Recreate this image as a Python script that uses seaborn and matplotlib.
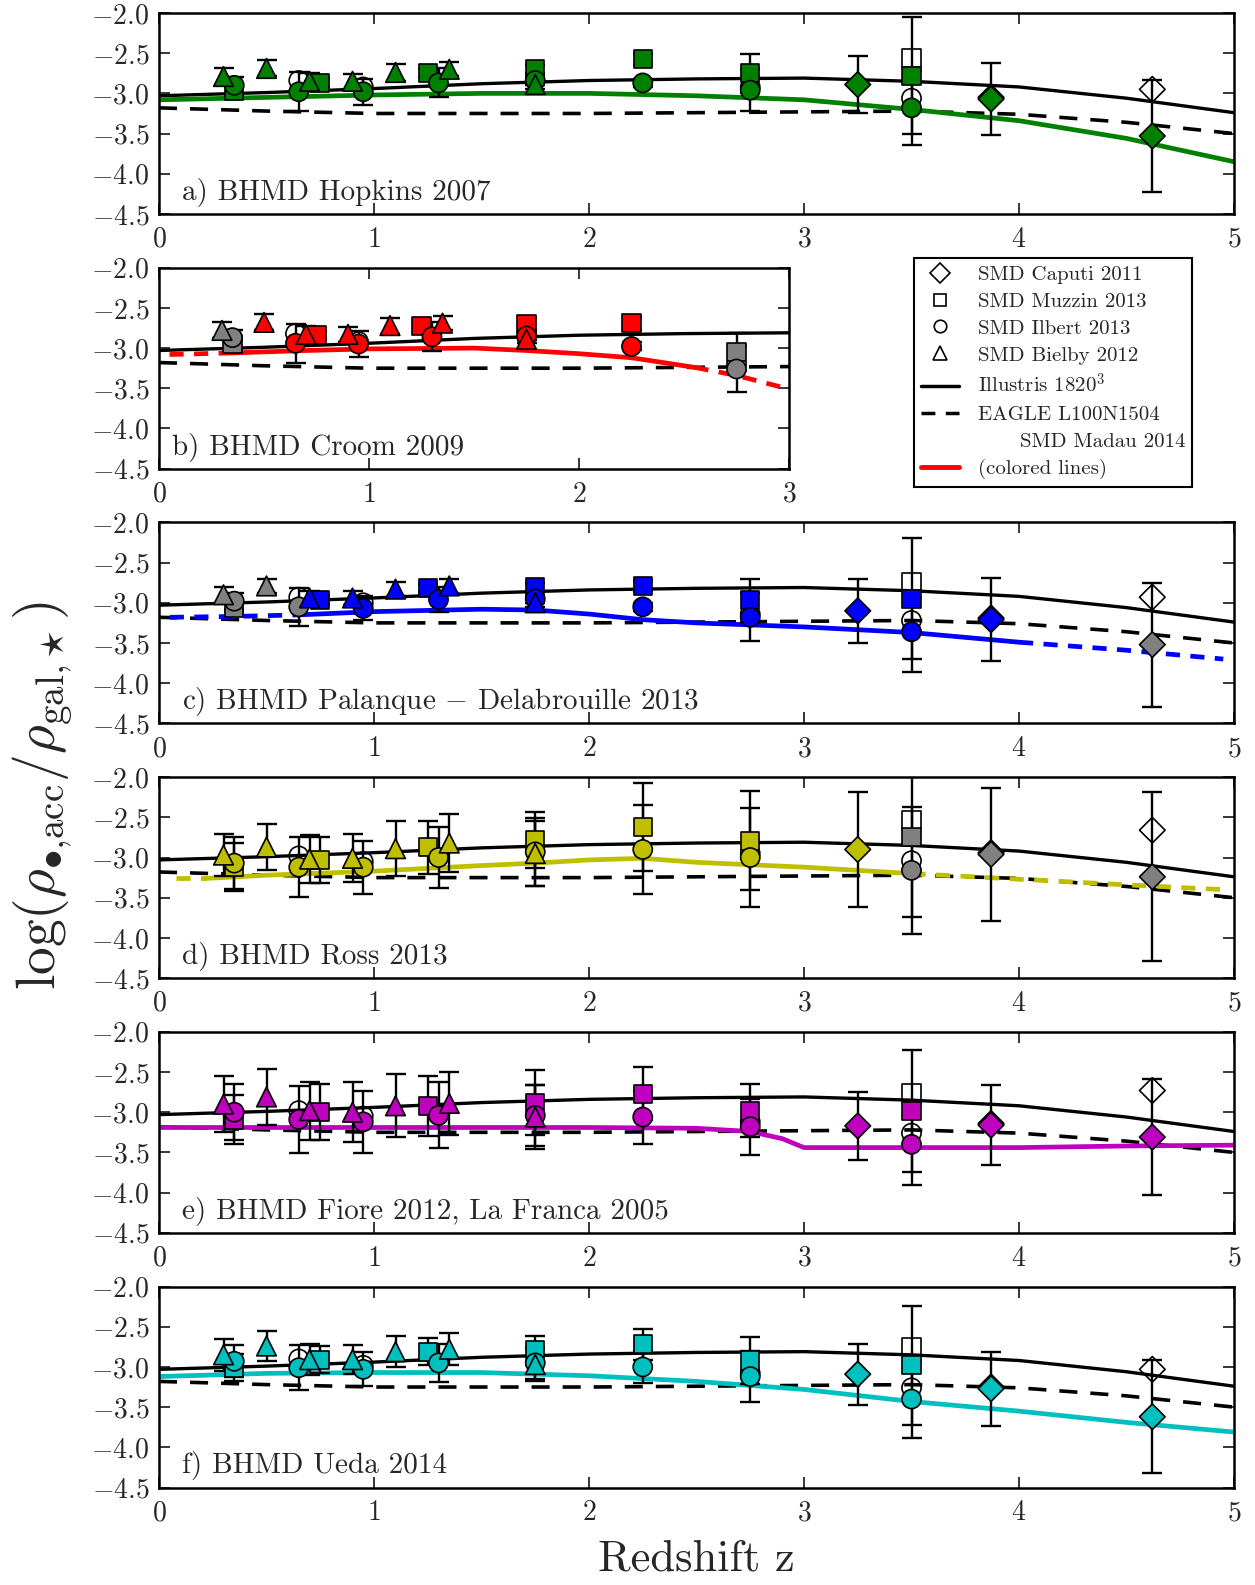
import numpy as np
import matplotlib
matplotlib.use("Agg")
import matplotlib.pyplot as plt
from matplotlib.lines import Line2D
from matplotlib.ticker import FuncFormatter, MultipleLocator
import seaborn as sns

# redshifts of the stellar-mass-density samples
z_tri = [0.30, 0.50, 0.70, 0.90, 1.10, 1.35, 1.75]          # Bielby 2012
z_cir = [0.35, 0.65, 0.95, 1.30, 1.75, 2.25, 2.75, 3.50]    # Ilbert 2013
z_sq = [0.35, 0.75, 1.25, 1.75, 2.25, 2.75, 3.50]           # Muzzin 2013
z_dia = [3.25, 3.87, 4.62]                                  # Caputi 2011
z_open_cir = [0.65, 0.95, 2.75, 3.50]
z_open_sq = [3.50]
z_open_dia = [3.87, 4.62]

# simulations (same in every panel)
z_model = [0, 0.5, 1, 1.5, 2, 2.5, 3, 3.5, 4, 4.5, 5]
illustris = [-3.03, -2.99, -2.94, -2.88, -2.84, -2.82, -2.81, -2.85, -2.92, -3.06, -3.24]
eagle = [-3.18, -3.22, -3.25, -3.25, -3.25, -3.24, -3.23, -3.22, -3.26, -3.36, -3.50]

labels = ["a) BHMD Hopkins 2007", "b) BHMD Croom 2009",
          r"c) BHMD Palanque $-$ Delabrouille 2013", "d) BHMD Ross 2013",
          "e) BHMD Fiore 2012, La Franca 2005", "f) BHMD Ueda 2014"]
colors = ["g", "r", "b", "y", "m", "c"]
zmax = [5, 3, 5, 5, 5, 5]
# redshift range covered by each BHMD (outside: dashed line, gray points)
valid_lo = [0.0, 0.35, 0.65, 0.22, 0.0, 0.0]
valid_hi = [5.0, 2.55, 4.00, 3.50, 5.0, 5.0]

# BHMD / SMD Madau 2014 curves
line_z = [
    [0, 0.5, 1, 1.5, 2, 2.5, 3, 3.5, 4, 4.5, 5],
    [0.05, 0.35, 0.7, 1.0, 1.5, 1.75, 2.0, 2.25, 2.55, 2.75, 3.0],
    [0.05, 0.35, 0.65, 1.0, 1.5, 1.75, 2.0, 2.25, 2.5, 3.0, 3.5, 4.0, 4.5, 4.95],
    [0.08, 0.22, 0.5, 1.0, 1.5, 1.75, 2.0, 2.25, 2.5, 3.0, 3.5, 4.0, 4.5, 4.95],
    [0, 0.5, 1, 1.5, 2, 2.5, 2.75, 2.9, 3.0, 3.5, 4.0, 4.5, 5],
    [0, 0.5, 1, 1.5, 2, 2.5, 3, 3.5, 4, 4.5, 5],
]
line_y = [
    [-3.08, -3.05, -3.02, -3.00, -3.00, -3.03, -3.08, -3.20, -3.34, -3.56, -3.85],
    [-3.08, -3.06, -3.03, -3.01, -3.00, -3.03, -3.07, -3.12, -3.24, -3.34, -3.51],
    [-3.18, -3.17, -3.15, -3.11, -3.08, -3.09, -3.14, -3.21, -3.25, -3.30, -3.37, -3.49, -3.59, -3.70],
    [-3.26, -3.26, -3.22, -3.17, -3.10, -3.07, -3.03, -3.01, -3.06, -3.12, -3.20, -3.27, -3.34, -3.40],
    [-3.19, -3.19, -3.19, -3.19, -3.19, -3.20, -3.24, -3.33, -3.44, -3.44, -3.44, -3.42, -3.41],
    [-3.12, -3.08, -3.07, -3.07, -3.11, -3.18, -3.28, -3.43, -3.55, -3.69, -3.81],
]

# filled points: log(rho_BH / rho_gal) per panel, with errors
tri_y = [
    [-2.79, -2.69, -2.85, -2.85, -2.74, -2.70, -2.89],
    [-2.78, -2.68, -2.83, -2.83, -2.72, -2.69, -2.89],
    [-2.90, -2.79, -2.94, -2.94, -2.83, -2.79, -3.00],
    [-2.97, -2.87, -3.02, -3.01, -2.89, -2.82, -2.95],
    [-2.90, -2.81, -2.98, -3.00, -2.92, -2.89, -3.06],
    [-2.85, -2.74, -2.91, -2.91, -2.81, -2.78, -2.97],
]
tri_e = [
    [0.11, 0.10, 0.10, 0.09, 0.10, 0.09, 0.05],
    [0.10, 0.10, 0.10, 0.09, 0.10, 0.09, 0.05],
    [0.10, 0.09, 0.09, 0.09, 0.09, 0.09, 0.05],
    [0.26, 0.29, 0.30, 0.30, 0.34, 0.36, 0.40],
    [0.35, 0.35, 0.36, 0.37, 0.39, 0.39, 0.40],
    [0.20, 0.19, 0.19, 0.18, 0.19, 0.20, 0.20],
]
cir_y = [
    [-2.90, -2.98, -2.98, -2.87, -2.84, -2.87, -2.96, -3.18],
    [-2.87, -2.94, -2.95, -2.86, -2.85, -2.98, -3.26, -3.40],
    [-2.98, -3.05, -3.07, -2.96, -2.95, -3.05, -3.18, -3.36],
    [-3.07, -3.12, -3.12, -3.00, -2.93, -2.90, -3.00, -3.16],
    [-3.00, -3.09, -3.12, -3.04, -3.04, -3.06, -3.18, -3.40],
    [-2.93, -3.01, -3.03, -2.95, -2.95, -3.00, -3.12, -3.40],
]
cir_e = [
    [0.10, 0.24, 0.16, 0.18, 0.05, 0.05, 0.26, 0.46],
    [0.10, 0.24, 0.16, 0.18, 0.05, 0.05, 0.28, 0.46],
    [0.10, 0.24, 0.15, 0.16, 0.05, 0.05, 0.30, 0.50],
    [0.32, 0.37, 0.33, 0.38, 0.42, 0.55, 0.62, 0.79],
    [0.35, 0.42, 0.39, 0.41, 0.38, 0.33, 0.35, 0.50],
    [0.20, 0.28, 0.21, 0.24, 0.20, 0.20, 0.32, 0.48],
]
sq_y = [
    [-2.97, -2.87, -2.75, -2.70, -2.57, -2.75, -2.78],
    [-2.95, -2.84, -2.72, -2.70, -2.69, -3.05, -2.90],
    [-3.07, -2.96, -2.82, -2.81, -2.79, -2.97, -2.95],
    [-3.12, -3.03, -2.87, -2.78, -2.62, -2.79, -2.74],
    [-3.09, -3.00, -2.92, -2.88, -2.77, -2.98, -2.98],
    [-3.01, -2.91, -2.81, -2.79, -2.72, -2.92, -2.98],
]
sq_e = [
    [0.05, 0.05, 0.05, 0.05, 0.06, 0.24, 0.73],
    [0.05, 0.05, 0.05, 0.08, 0.08, 0.24, 0.73],
    [0.05, 0.05, 0.05, 0.05, 0.06, 0.27, 0.75],
    [0.30, 0.29, 0.33, 0.35, 0.55, 0.62, 1.00],
    [0.30, 0.35, 0.37, 0.40, 0.33, 0.33, 0.76],
    [0.17, 0.17, 0.17, 0.18, 0.19, 0.29, 0.74],
]
dia_y = [
    [-2.89, -3.07, -3.53],
    [-2.89, -3.07, -3.53],
    [-3.10, -3.21, -3.52],
    [-2.90, -2.96, -3.24],
    [-3.17, -3.16, -3.31],
    [-3.09, -3.27, -3.62],
]
dia_e = [
    [0.35, 0.45, 0.70],
    [0.35, 0.45, 0.70],
    [0.40, 0.52, 0.77],
    [0.71, 0.83, 1.05],
    [0.42, 0.50, 0.72],
    [0.38, 0.46, 0.70],
]
# open points (SMD Madau 2014 normalisation)
open_cir_y = [
    [-2.84, -2.92, -2.92, -3.06],
    [-2.82, -2.92, -3.20, -3.06],
    [-2.93, -3.00, -3.14, -3.22],
    [-2.98, -3.05, -2.95, -3.04],
    [-2.98, -3.05, -3.12, -3.26],
    [-2.90, -2.98, -3.08, -3.26],
]
open_sq_y = [[-2.56], [-2.56], [-2.74], [-2.53], [-2.76], [-2.75]]
open_dia_y = [
    [-3.05, -2.95],
    [-3.05, -2.95],
    [-3.19, -2.93],
    [-2.94, -2.66],
    [-3.14, -2.73],
    [-3.25, -3.03],
]

sns.set_style("ticks")
plt.rcParams["font.family"] = ["cmr10", "DejaVu Serif"]
plt.rcParams["mathtext.fontset"] = "cm"
plt.rcParams["axes.formatter.use_mathtext"] = True
plt.rcParams["axes.unicode_minus"] = False


def draw_points(ax, z, y, err, marker, size, color, lo, hi, zo):
    z = np.asarray(z)
    y = np.asarray(y)
    inside = np.where((z > lo) & (z < hi), "in", "out")
    ax.errorbar(z, y, yerr=err, fmt="none", ecolor="k", elinewidth=1.7,
                capsize=7, capthick=1.7, zorder=2.6)
    sns.scatterplot(x=z, y=y, hue=inside, palette={"in": color, "out": "gray"},
                    marker=marker, s=size, edgecolor="k", linewidth=1.2,
                    legend=False, ax=ax, zorder=zo)


def draw_open(ax, z, y, marker, size):
    sns.scatterplot(x=np.asarray(z), y=np.asarray(y), marker=marker, s=size,
                    facecolor="none", edgecolor="k", linewidth=1.2,
                    legend=False, ax=ax, zorder=3)


def draw_bhmd(ax, z, y, color, lo, hi):
    z = np.asarray(z)
    y = np.asarray(y)
    solid = (z >= lo) & (z <= hi)
    sns.lineplot(x=z[solid], y=y[solid], color=color, lw=3.4, ax=ax,
                 estimator=None, sort=False, zorder=2.2)
    for part in [z <= lo, z >= hi]:
        if part.sum() >= 2:
            sns.lineplot(x=z[part], y=y[part], color=color, lw=3.4,
                         linestyle=(0, (3.0, 2.2)), ax=ax, estimator=None,
                         sort=False, zorder=2.2)


fig = plt.figure(figsize=(12.55, 15.85), dpi=100)
left = 159 / 1255
full_w = 1075 / 1255
height = 201 / 1585

for i in range(6):
    w = full_w if zmax[i] == 5 else 630 / 1255
    ax = fig.add_axes([left, 0.8650 - i * 0.1607, w, height])
    c = colors[i]
    lo, hi = valid_lo[i], valid_hi[i]

    sns.lineplot(x=z_model, y=illustris, color="k", lw=2.4, ax=ax, zorder=2)
    sns.lineplot(x=z_model, y=eagle, color="k", lw=2.6,
                 linestyle=(0, (5.0, 3.6)), ax=ax, zorder=2)
    draw_bhmd(ax, line_z[i], line_y[i], c, lo, hi)

    draw_open(ax, z_open_cir, open_cir_y[i], "o", 190)
    draw_open(ax, z_open_sq, open_sq_y[i], "s", 170)
    draw_open(ax, z_open_dia, open_dia_y[i], "D", 170)

    draw_points(ax, z_sq, sq_y[i], sq_e[i], "s", 170, c, lo, hi, 4)
    draw_points(ax, z_cir, cir_y[i], cir_e[i], "o", 190, c, lo, hi, 5)
    draw_points(ax, z_tri, tri_y[i], tri_e[i], "^", 200, c, lo, hi, 6)
    draw_points(ax, z_dia, dia_y[i], dia_e[i], "D", 170, c, lo, hi, 6)

    ax.set_xlim(0, zmax[i])
    ax.set_ylim(-4.5, -2.0)
    ax.xaxis.set_major_locator(MultipleLocator(1))
    ax.yaxis.set_major_locator(MultipleLocator(0.5))
    ax.xaxis.set_major_formatter(FuncFormatter(lambda v, p: f"${v:.0f}$"))
    ax.yaxis.set_major_formatter(FuncFormatter(lambda v, p: f"${v:.1f}$"))
    ax.tick_params(direction="in", length=8, width=1.3, top=True, right=True,
                   labelsize=20)
    ax.tick_params(axis="x", pad=9)
    ax.tick_params(axis="y", pad=7)
    for sp in ax.spines.values():
        sp.set_linewidth(1.8)
        sp.set_color("k")
    ax.set_xlabel("")
    ax.set_ylabel("")
    ax.text(0.021, 0.07, labels[i], transform=ax.transAxes, fontsize=21,
            va="baseline", ha="left")

fig.text(0.034, 0.498,
         r"$\log(\rho_{\bullet{,}\rm acc}/\rho_{\rm gal{,}\star})$",
         rotation=90, fontsize=40, ha="center", va="center")
fig.text(0.555, 0.016, "Redshift z", fontsize=32, ha="center", va="center")

handles = [
    Line2D([], [], marker="D", ls="none", mfc="none", mec="k", ms=10, mew=1.2),
    Line2D([], [], marker="s", ls="none", mfc="none", mec="k", ms=9, mew=1.2),
    Line2D([], [], marker="o", ls="none", mfc="none", mec="k", ms=9, mew=1.2),
    Line2D([], [], marker="^", ls="none", mfc="none", mec="k", ms=10, mew=1.2),
    Line2D([], [], color="k", lw=2.5),
    Line2D([], [], color="k", lw=2.5, ls=(0, (4, 3))),
    Line2D([], [], ls="none"),
    Line2D([], [], color="r", lw=3.5),
]
leg_labels = ["SMD Caputi 2011", "SMD Muzzin 2013", "SMD Ilbert 2013",
              "SMD Bielby 2012", r"Illustris $1820^3$", "EAGLE L100N1504",
              "      SMD Madau 2014", "(colored lines)"]
leg = fig.legend(handles, leg_labels, loc="upper left",
                 bbox_to_anchor=(914 / 1255, 1 - 258 / 1585), fontsize=15.0,
                 frameon=True, fancybox=False, framealpha=1, edgecolor="k",
                 handlelength=1.8, handletextpad=0.9, labelspacing=0.40,
                 borderpad=0.35, borderaxespad=0)
leg.get_frame().set_linewidth(1.5)

fig.savefig("out.png", dpi=100)
